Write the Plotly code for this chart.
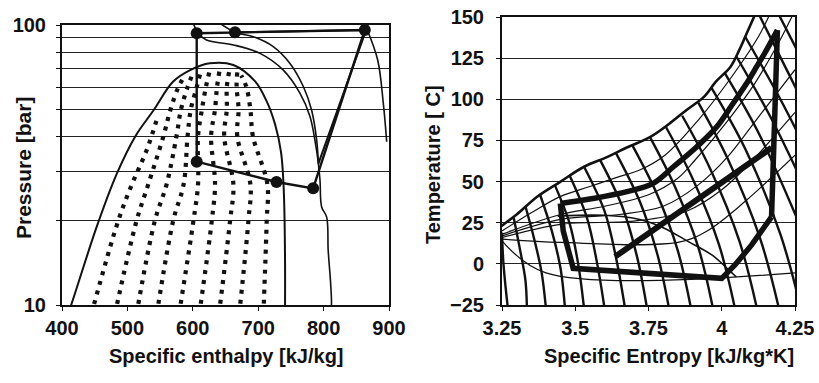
import plotly.graph_objects as go

# ---------------- Left panel: pressure-enthalpy ----------------
dome_h = [409, 414, 453, 484, 512, 540, 570, 596, 626, 662, 695, 712, 726, 735, 739, 741, 741]
dome_p = [9.3, 10, 19, 29.5, 40, 49.6, 62.8, 69, 73, 72, 63, 54, 44, 35, 26, 15, 9.3]

quality_h = [
    [445, 486, 507, 530, 545],
    [481, 514, 532, 555, 566, 578, 588],
    [514, 542, 560, 575, 582, 592, 600],
    [545, 570, 586, 592, 597, 606, 612],
    [579, 601, 608, 608, 614, 620, 626],
    [610, 629, 634, 628, 634, 637, 641],
    [640, 657, 662, 648, 652, 652, 656],
    [671, 685, 688, 668, 670, 667, 668],
    [708, 713, 714, 692, 688, 682, 674],
]
quality_p = [
    [9.3, 20, 27, 36, 46],
    [9.3, 20, 27, 40, 50, 60, 66],
    [9.3, 20, 27, 40, 50, 60, 67],
    [9.3, 20, 27, 40, 50, 60, 68],
    [9.3, 20, 27, 40, 50, 60, 69],
    [9.3, 20, 27, 40, 50, 60, 69],
    [9.3, 20, 27, 40, 50, 60, 69],
    [9.3, 20, 27, 40, 50, 60, 68],
    [9.3, 20, 27, 40, 50, 60, 66],
]

iso1_h = [595.7, 608.5, 621, 662, 702.8, 738.4, 764, 779.2, 788.4, 792]
iso1_p = [108.6, 93.4, 88.4, 84.9, 79.2, 69, 57, 47.1, 36.7, 32]
iso2_h = [623.7, 664.5, 692.6, 723, 748.6, 769, 781.7, 789.4, 792]
iso2_p = [108.6, 94.2, 90.8, 83.7, 72.9, 60.3, 49.6, 38.8, 32]
iso3_h = [792, 794.5, 797, 804.7, 807, 810.8, 812, 810]
iso3_p = [32, 27.9, 22.4, 20.6, 15.7, 11.9, 10, 9.2]
isen_h = [866, 882.7, 891.3, 896.5]
isen_p = [97, 75, 52.5, 38.3]

# cycle state points A..F
cyc_h = {"A": 606, "B": 664.5, "C": 606, "D": 728, "E": 784, "F": 863}
cyc_p = {"A": 93.4, "B": 94.2, "C": 32.5, "D": 27.5, "E": 26.1, "F": 96}
cyc_path = ["A", "C", "D", "E", "F", "A"]
cyc_b_line = ["B", "F"]
v2_h = [792, 866]
v2_p = [32, 97.5]

# ---------------- Right panel: temperature-entropy ----------------
bound_s = [3.24, 3.30, 3.37, 3.45, 3.53, 3.61, 3.68, 3.755, 3.82, 3.88, 3.94, 3.98, 4.03, 4.06, 4.085, 4.12]
bound_t = [22, 30, 40.8, 50, 59, 65, 71, 77, 85, 93.5, 101.6, 110.7, 119.8, 130, 140, 154]

desc_s = [
    [3.25, 3.255, 3.27],
    [3.29, 3.31, 3.33, 3.335],
    [3.33, 3.36, 3.385, 3.40],
    [3.38, 3.42, 3.45, 3.465],
    [3.43, 3.48, 3.51, 3.53],
    [3.48, 3.54, 3.575, 3.60],
    [3.53, 3.60, 3.64, 3.67],
    [3.585, 3.66, 3.71, 3.745],
    [3.64, 3.72, 3.78, 3.82],
    [3.695, 3.78, 3.85, 3.895],
    [3.755, 3.84, 3.92, 3.97],
    [3.81, 3.90, 3.99, 4.045],
    [3.865, 3.96, 4.06, 4.12],
    [3.92, 4.02, 4.13, 4.195],
    [3.965, 4.08, 4.20, 4.27],
    [4.01, 4.13, 4.27],
    [4.05, 4.17, 4.30],
    [4.08, 4.20, 4.30],
    [4.12, 4.23, 4.30],
    [4.17, 4.30],
    [4.23, 4.30],
]
desc_t = [
    [19, 0, -27],
    [28, 10, -10, -27],
    [35, 15, -5, -27],
    [42, 20, -3, -27],
    [48, 25, 0, -27],
    [54, 28, 0, -27],
    [59, 32, 3, -27],
    [63, 35, 5, -27],
    [67, 38, 6, -27],
    [72, 42, 8, -27],
    [77, 47, 10, -27],
    [83, 52, 12, -27],
    [90, 58, 14, -27],
    [98, 64, 16, -27],
    [107, 70, 18, -27],
    [116, 78, 22],
    [126, 88, 40],
    [138, 100, 65],
    [154, 115, 90],
    [160, 115],
    [165, 140],
]

isobar_s = [
    [3.25, 3.35, 3.45, 3.55, 3.65, 3.72, 3.806, 3.92, 4.034, 4.125, 4.17],
    [3.25, 3.45, 3.60, 3.75, 3.85, 3.909, 4.022, 4.113, 4.193, 4.239],
    [3.25, 3.45, 3.65, 3.80, 3.92, 4.02, 4.12, 4.25],
    [3.25, 3.45, 3.70, 3.88, 4.0, 4.1, 4.25],
    [3.25, 3.45, 3.85, 3.95, 4.08, 4.25],
    [3.25, 3.40, 4.25],
]
isobar_t = [
    [20, 31, 41, 47, 53, 57, 66, 87.4, 113.7, 138, 154],
    [18, 30, 35, 42, 52, 63.1, 87.4, 109.7, 134, 150],
    [17, 27, 30, 35, 48, 65, 88, 118],
    [16, 24, 26, 32, 45, 62, 92],
    [15, 13, 13, 20, 38, 66],
    [14, -5.5, -5.5],
]

vapour_s = [3.44, 3.60, 3.72, 3.80, 3.886, 3.966, 4.02, 4.05]
vapour_t = [29, 29.5, 27, 22, 13.5, 5.4, -3, -8]

hr_s = [3.449, 3.56, 3.68, 3.766, 3.835, 3.915, 3.983, 4.039, 4.085, 4.119, 4.153, 4.19]
hr_t = [36.7, 39.7, 44, 48.9, 59, 71.2, 83.3, 97.6, 109.7, 119.8, 130, 142]
comp_s = [4.17, 4.19]
comp_t = [28.6, 142]
evap_s = [3.449, 3.459, 3.493, 3.738, 4.0, 4.045, 4.102, 4.17]
evap_t = [36.7, 20, -2.7, -5.7, -8.8, -0.7, 11.5, 28.6]
sink_s = [3.636, 4.17]
sink_t = [4.4, 70.5]

BLACK = "#111111"
fig = go.Figure()

def add(x, y, xa, ya, width, dash="solid", shape="linear"):
    fig.add_trace(go.Scatter(x=x, y=y, mode="lines", xaxis=xa, yaxis=ya,
                             line=dict(color=BLACK, width=width, dash=dash, shape=shape),
                             showlegend=False, hoverinfo="skip"))

# left
for hh, pp in zip(quality_h, quality_p):
    add(hh, pp, "x", "y", 4.2, dash="4px,6px", shape="spline")
add(dome_h, dome_p, "x", "y", 2, shape="spline")
add(iso1_h, iso1_p, "x", "y", 1.6, shape="spline")
add(iso2_h, iso2_p, "x", "y", 1.6, shape="spline")
add(iso3_h, iso3_p, "x", "y", 1.6, shape="spline")
add(isen_h, isen_p, "x", "y", 1.6, shape="spline")
add([cyc_h[k] for k in cyc_path], [cyc_p[k] for k in cyc_path], "x", "y", 2.4)
add([cyc_h[k] for k in cyc_b_line], [cyc_p[k] for k in cyc_b_line], "x", "y", 2.0)
add(v2_h, v2_p, "x", "y", 2.0)
fig.add_trace(go.Scatter(x=list(cyc_h.values()), y=list(cyc_p.values()), mode="markers",
                         xaxis="x", yaxis="y", marker=dict(color=BLACK, size=12),
                         showlegend=False, hoverinfo="skip"))

# right
for ss, tt in zip(isobar_s, isobar_t):
    add(ss, tt, "x2", "y2", 1.2, shape="spline")
for ss, tt in zip(desc_s, desc_t):
    add(ss, tt, "x2", "y2", 2.4, shape="spline")
add(bound_s, bound_t, "x2", "y2", 2.6, shape="spline")
add(vapour_s, vapour_t, "x2", "y2", 1.6, shape="spline")
add(hr_s, hr_t, "x2", "y2", 5.5, shape="spline")
add(comp_s, comp_t, "x2", "y2", 5.5)
add(evap_s, evap_t, "x2", "y2", 5.5)
add(sink_s, sink_t, "x2", "y2", 6)

FONT = "Liberation Sans, Arial, sans-serif"
TICKFONT = dict(family=FONT, size=20, color=BLACK, weight="bold")
# the page body margin is removed after plotting (see post_script), so the figure fills the window
W, H = 819, 383
def fx(px):
    return px / W
def fy(py):
    return 1 - py / H

ax_common = dict(showline=True, linecolor=BLACK, linewidth=2, mirror=True,
                 ticks="outside", ticklen=4, tickcolor=BLACK, zeroline=False,
                 tickfont=TICKFONT, automargin=False, ticklabeloverflow="allow")

fig.update_layout(
    width=W, height=H, margin=dict(l=0, r=0, t=0, b=0, autoexpand=False),
    paper_bgcolor="white", plot_bgcolor="white", hovermode=False,
    xaxis=dict(domain=[fx(62), fx(389)], range=[400, 900], tickvals=[400, 500, 600, 700, 800, 900],
               showgrid=False, anchor="y", **ax_common),
    yaxis=dict(domain=[fy(305), fy(25)], type="log", range=[1, 2],
               tickvals=[10, 20, 30, 40, 50, 60, 70, 80, 90, 100],
               ticktext=["10", "", "", "", "", "", "", "", "", "100"], ticklabelstandoff=6,
               showgrid=True, gridcolor="#222222", gridwidth=1, anchor="x", **ax_common),
    xaxis2=dict(domain=[fx(502), fx(795)], range=[3.25, 4.25], tickvals=[3.25, 3.5, 3.75, 4, 4.25],
                ticktext=["3.25", "3.5", "3.75", "4", "4.25"], showgrid=False, anchor="y2", **ax_common),
    yaxis2=dict(domain=[fy(305), fy(17)], range=[-25, 150], tickvals=[-25, 0, 25, 50, 75, 100, 125, 150],
                ticklabelstandoff=8,
                showgrid=True, gridcolor="#222222", gridwidth=1, anchor="x2", **ax_common),
    annotations=[
        dict(text="Specific enthalpy [kJ/kg]", x=fx(226), y=fy(356), xref="paper", yref="paper",
             xanchor="center", yanchor="middle", showarrow=False,
             font=dict(family=FONT, size=20, color=BLACK, weight="bold")),
        dict(text="Pressure [bar]", x=fx(23), y=fy(168), xref="paper", yref="paper",
             xanchor="center", yanchor="middle", showarrow=False, textangle=-90,
             font=dict(family=FONT, size=21, color=BLACK, weight="bold")),
        dict(text="Specific Entropy [kJ/kg*K]", x=fx(669), y=fy(356), xref="paper", yref="paper",
             xanchor="center", yanchor="middle", showarrow=False,
             font=dict(family=FONT, size=20, color=BLACK, weight="bold")),
        dict(text="Temperature [ C]", x=fx(433), y=fy(165), xref="paper", yref="paper",
             xanchor="center", yanchor="middle", showarrow=False, textangle=-90,
             font=dict(family=FONT, size=20, color=BLACK, weight="bold")),
    ],
)
fig.write_html("out.html", config={"displayModeBar": False, "staticPlot": True},
               post_script="document.body.style.margin='0px';")
